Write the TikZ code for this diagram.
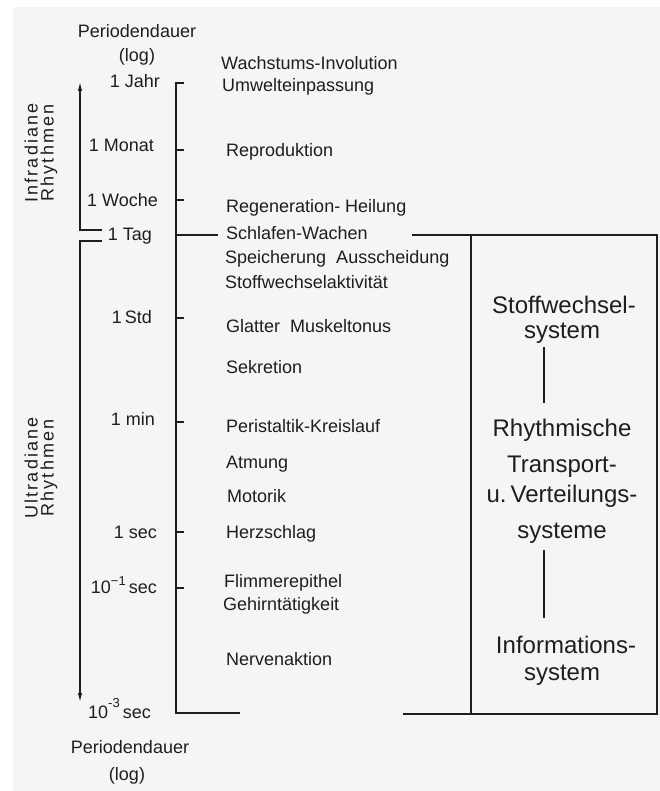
\documentclass[tikz,border=0pt]{standalone}
\usepackage{fontspec}
\setmainfont{Liberation Sans}
\newfontfamily\spacedfont[LetterSpace=12]{Liberation Sans}
\usetikzlibrary{arrows.meta}
\definecolor{bg}{HTML}{F5F5F5}
\definecolor{ink}{HTML}{1E1E1E}
\begin{document}
\begin{tikzpicture}[x=1pt,y=-1pt,
  line/.style={draw=ink, line width=1.1pt},
  lbl/.style={text=ink, font=\fontsize{18}{22}\selectfont, inner sep=0pt, anchor=base west},
  ticklbl/.style={text=ink, font=\fontsize{18}{22}\selectfont, inner sep=0pt, anchor=base east},
  head/.style={text=ink, font=\fontsize{18}{24}\selectfont, inner sep=0pt, anchor=base},
  sys/.style={text=ink, font=\fontsize{24}{28}\selectfont, inner sep=0pt, anchor=base},
  side/.style={text=ink, font=\spacedfont\fontsize{18}{16}\selectfont, rotate=90, align=center, inner sep=0pt},
  arrowtip/.style={-{Latex[length=9pt,width=4.5pt]}}
]
\useasboundingbox (0,0) rectangle (660,791);
\fill[white] (0,0) rectangle (660,791);
\fill[bg] (13,7) rectangle (660,791);

% headings
\node[head] (ptop) at (137,38) {Periodendauer};
\node[head] (ltop) at (137,62) {(log)};
\node[head] (pbot) at (130,753) {Periodendauer};
\node[head] (lbot) at (127,780) {(log)};

% side labels
\node[side] (infra) at (41,153) {Infradiane\\Rhythmen};
\node[side] (ultra) at (41,468) {Ultradiane\\Rhythmen};

% left axis arrows
\coordinate (aTip) at (80,82);
\coordinate (aCorner) at (80,230);
\coordinate (aEnd) at (102,230);
\coordinate (bStart) at (102,241);
\coordinate (bCorner) at (80,241);
\coordinate (bTip) at (80,702);
\draw[line,arrowtip] (aEnd) -- (aCorner) -- (aTip);
\draw[line,arrowtip] (bStart) -- (bCorner) -- (bTip);

% tick labels
\node[ticklbl] (tJahr) at (160,88) {1 Jahr};
\node[ticklbl] (tMonat) at (154,152) {1 Monat};
\node[ticklbl] (tWoche) at (158,207) {1 Woche};
\node[ticklbl] (tTag) at (152,241) {1 Tag};
\node[ticklbl] (tStd) at (152,323) {1\,Std};
\node[ticklbl] (tMin) at (155,425) {1 min};
\node[ticklbl] (tSec) at (157,538) {1 sec};
\node[ticklbl] (tDsec) at (157,593) {10\raisebox{8pt}{\fontsize{13}{13}\selectfont −1}\,sec};
\node[ticklbl] (tMsec) at (151,718) {10\raisebox{11pt}{\fontsize{13}{13}\selectfont -3}\,sec};

% scale line
\coordinate (sTop) at (176,83);
\coordinate (sTopTick) at (184,83);
\coordinate (sBot) at (176,713);
\coordinate (sBotEnd) at (240,713);
\draw[line] (sTopTick) -- (sTop) -- (sBot) -- (sBotEnd);
\foreach \y/\n in {150/Monat,200/Woche,318/Std,422/Min,532/Sec,588/Dsec}{
  \coordinate (k\n a) at (176,\y);
  \coordinate (k\n b) at (184,\y);
  \draw[line] (k\n a) -- (k\n b);
}
\coordinate (kTaga) at (176,235);
\coordinate (kTagb) at (218,235);
\draw[line] (kTaga) -- (kTagb);

% middle texts
\node[lbl] (m1) at (221,70) {Wachstums-Involution};
\node[lbl] (m2) at (222,92) {Umwelteinpassung};
\node[lbl] (m3) at (226,157) {Reproduktion};
\node[lbl] (m4) at (226,213) {Regeneration- Heilung};
\node[lbl] (m5) at (226,240) {Schlafen-Wachen};
\node[lbl] (m6) at (225,263) {Speicherung\ \ Ausscheidung};
\node[lbl] (m7) at (225,288) {Stoffwechselaktivität};
\node[lbl] (m8) at (226,332) {Glatter\ \ Muskeltonus};
\node[lbl] (m9) at (226,373) {Sekretion};
\node[lbl] (m10) at (226,432) {Peristaltik-Kreislauf};
\node[lbl] (m11) at (226,468) {Atmung};
\node[lbl] (m12) at (227,502) {Motorik};
\node[lbl] (m13) at (226,538) {Herzschlag};
\node[lbl] (m14) at (224,587) {Flimmerepithel};
\node[lbl] (m15) at (223,610) {Gehirntätigkeit};
\node[lbl] (m16) at (226,665) {Nervenaktion};

% right box
\coordinate (rTopStart) at (412,235);
\coordinate (rTR) at (657,235);
\coordinate (rBR) at (657,714);
\coordinate (rBotStart) at (403,714);
\coordinate (rTL) at (471,235);
\coordinate (rBL) at (471,714);
\draw[line] (rTopStart) -- (rTR) -- (rBR) -- (rBotStart);
\draw[line] (rTL) -- (rBL);

\node[sys] (s1) at (564,313) {Stoffwechsel-};
\node[sys] (s2) at (562,338) {system};
\node[sys] (s3) at (562,436) {Rhythmische};
\node[sys] (s4) at (562,472) {Transport-};
\node[sys] (s5) at (562,502) {u.\,Verteilungs-};
\node[sys] (s6) at (562,538) {systeme};
\node[sys] (s7) at (566,653) {Informations-};
\node[sys] (s8) at (562,680) {system};

\coordinate (v1a) at (544,347);
\coordinate (v1b) at (544,403);
\coordinate (v2a) at (544,550);
\coordinate (v2b) at (544,618);
\draw[line] (v1a) -- (v1b);
\draw[line] (v2a) -- (v2b);
\end{tikzpicture}
\end{document}
